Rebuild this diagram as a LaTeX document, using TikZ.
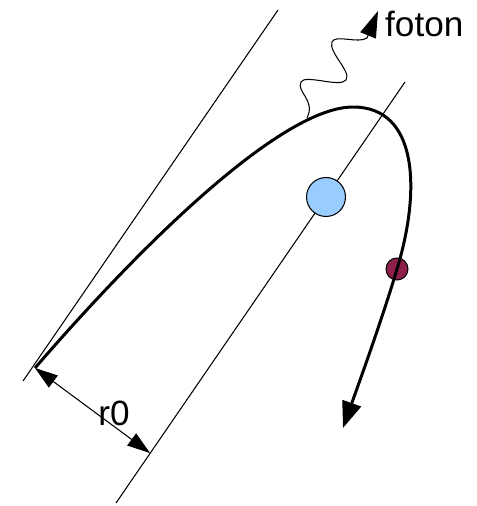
\documentclass[tikz,border=0pt]{standalone}
\usepackage{fontspec}
\setmainfont{Liberation Sans}
\usetikzlibrary{arrows.meta}
\tikzset{ball/.style={circle,draw,line width=0.6pt,inner sep=0pt}}
\tikzset{guide/.style={line width=0.6pt}}

\begin{document}
\begin{tikzpicture}[x=0.02cm,y=-0.02cm,>={Triangle[length=13pt,width=8.5pt]},line join=round,font=\fontsize{20}{23}\selectfont]
\useasboundingbox (0,0) rectangle (476,506);
% --- guide lines
\coordinate (lt) at (278,10); \coordinate (lb) at (23,381);
\coordinate (at) at (405,82); \coordinate (ab) at (116,503);
\draw[guide] (lt) -- (lb);
\draw[guide] (at) -- (ab);
% --- nucleus and electron
\node[ball,fill={rgb,255:red,153;green,204;blue,255},minimum size=0.78cm] (nucleus) at (326,197) {};
\node[ball,fill={rgb,255:red,142;green,31;blue,74},minimum size=0.44cm] (electron) at (397,269) {};
% --- trajectory
\coordinate (start) at (35,368); \coordinate (peak) at (353,107); \coordinate (end) at (343,428);
\draw[line width=1.7pt,-{Triangle[length=15pt,width=11pt]}] (start) .. controls (149,236) and (284,107) .. (peak) .. controls (418,107) and (421,190) .. (electron.center) .. controls (382,320) and (355,394) .. (end);
% --- photon
\coordinate (emit) at (307,118); \coordinate (ftip) at (378,11);
\draw[guide,-{Triangle[length=15pt,width=9.5pt]}] (emit) .. controls (316,100) and (296,92) .. (301,82) .. controls (305,74) and (340,88) .. (346,80) .. controls (352,72) and (328,52) .. (332,42) .. controls (335,34) and (358,44) .. (367,38) -- (ftip);
\node[anchor=west] (foton) at (379,24) {foton};
% --- r0
\coordinate (foot) at (150,453);
\draw[guide,<->] (start) -- (foot);
\node (rlabel) at (114,413) {r0};
\end{tikzpicture}
\end{document}
